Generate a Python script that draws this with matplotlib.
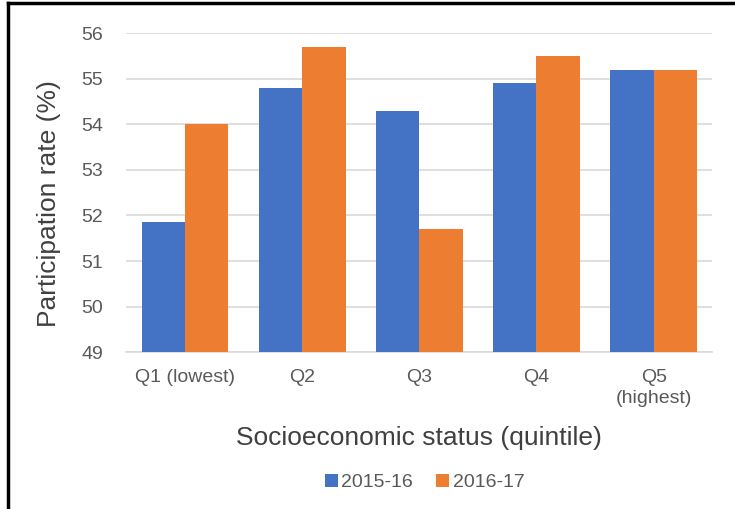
import numpy as np
import matplotlib.pyplot as plt
from matplotlib.lines import Line2D

plt.rcParams['font.family'] = ['Liberation Sans', 'DejaVu Sans']

# data
categories = ['Q1 (lowest)', 'Q2', 'Q3', 'Q4', 'Q5\n(highest)']
series_names = ['2015-16', '2016-17']
rate_2015_16 = [51.85, 54.8, 54.3, 54.9, 55.2]
rate_2016_17 = [54.0, 55.7, 51.7, 55.5, 55.2]

blue = '#4472C4'
orange = '#ED7D31'
grey_text = '#595959'

fig = plt.figure(figsize=(7.35, 5.09), dpi=100)
ax = fig.add_axes([0.172, 0.308, 0.797, 0.627])

x = np.arange(len(categories))
w = 0.37
ax.bar(x - w/2, rate_2015_16, w, color=blue, label=series_names[0], zorder=3)
ax.bar(x + w/2, rate_2016_17, w, color=orange, label=series_names[1], zorder=3)

ax.set_ylim(49, 56)
ax.set_xlim(-0.5, len(categories) - 0.5)
ax.set_yticks(range(49, 57))
ax.set_xticks(x)
ax.set_xticklabels(categories, linespacing=1.3)
ax.tick_params(axis='both', length=0, labelsize=14, colors=grey_text)
ax.tick_params(axis='x', pad=12)
ax.tick_params(axis='y', pad=17)

ax.grid(axis='y', color='#D9D9D9', linewidth=1.2, zorder=0)
for s in ['top', 'right', 'left']:
    ax.spines[s].set_visible(False)
ax.spines['bottom'].set_color('#D9D9D9')
ax.spines['bottom'].set_linewidth(1.2)

ax.set_ylabel('Participation rate (%)', fontsize=19, color='#404040')
ax.yaxis.set_label_coords(-0.112, 0.465)
ax.set_xlabel('Socioeconomic status (quintile)', fontsize=19, color='#404040', labelpad=14)

leg = fig.legend(loc='center', bbox_to_anchor=(0.578, 0.052), ncol=2, frameon=False,
                 fontsize=14, handlelength=0.65, handleheight=0.65, handletextpad=0.2,
                 columnspacing=1.2)
for t in leg.get_texts():
    t.set_color(grey_text)

# partial black frame (top and left edges only, as in the cropped source)
fig.add_artist(Line2D([0.011, 0.011], [0, 0.994], color='black', linewidth=2.5,
                      transform=fig.transFigure))
fig.add_artist(Line2D([0.011, 1.0], [0.994, 0.994], color='black', linewidth=2.5,
                      transform=fig.transFigure))

fig.savefig('out.png', dpi=100)
